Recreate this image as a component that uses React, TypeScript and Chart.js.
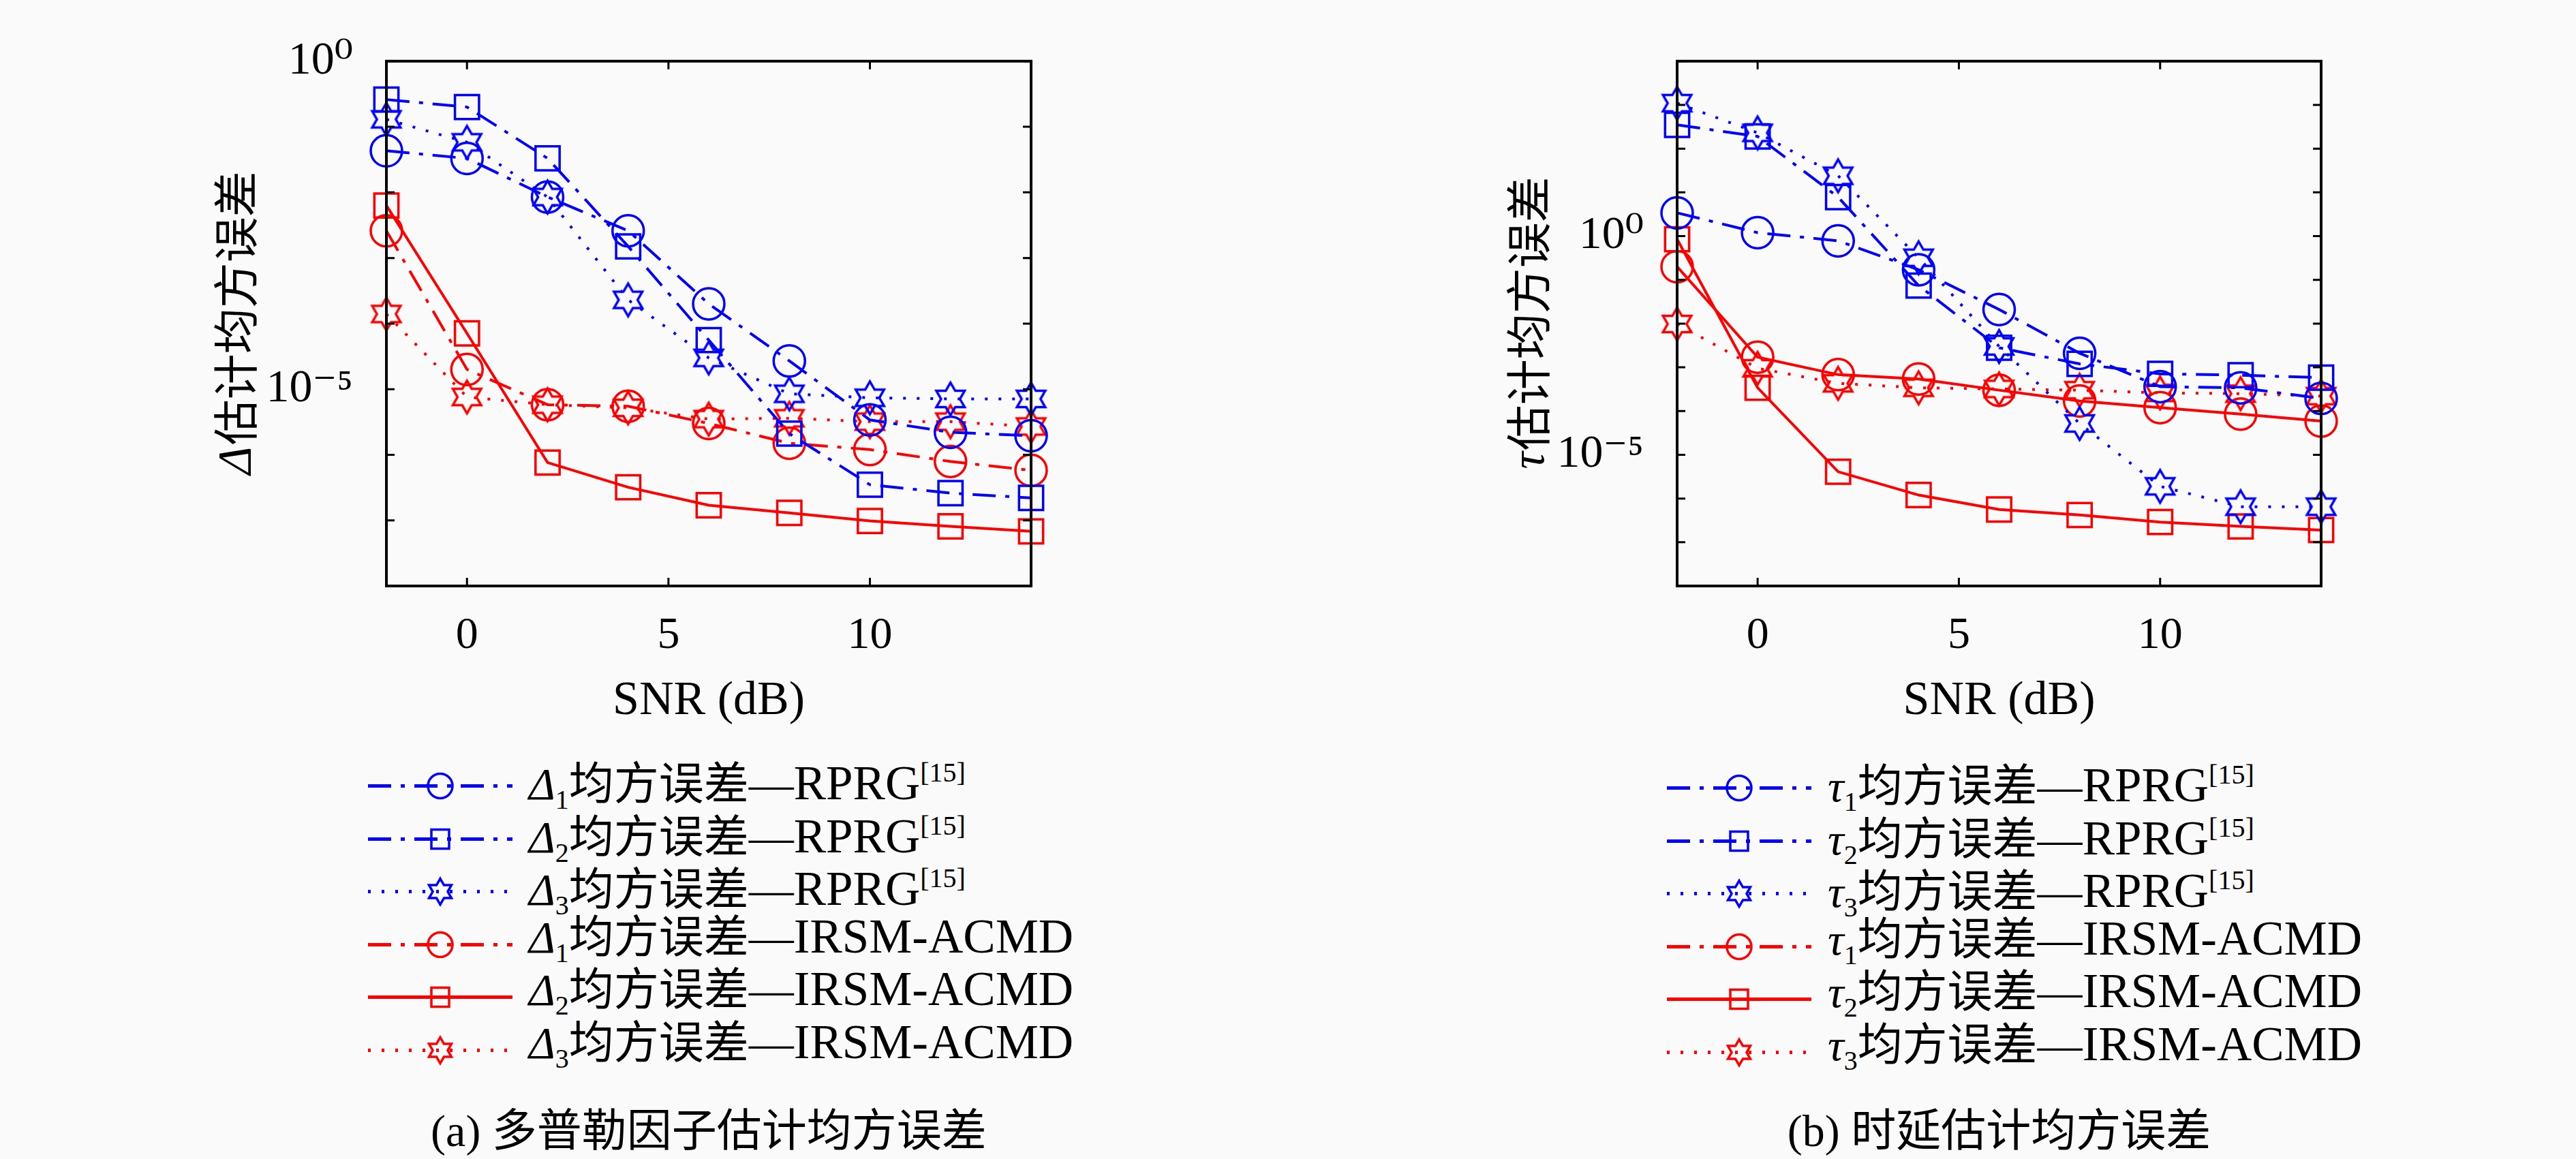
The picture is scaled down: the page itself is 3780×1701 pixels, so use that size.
import { useEffect, useRef } from "react";
import { Chart, registerables } from "chart.js";

Chart.register(...registerables);

// SNR axis (dB)
const snr = [-2, 0, 2, 4, 6, 8, 10, 12, 14];
const snrTicks = [0, 5, 10];
const labelledDecades = [0, -5];

// (a) Doppler factor estimation MSE
const delta1Rprg = [4.3e-2, 3.3e-2, 8.5e-3, 2.6e-3, 2.0e-4, 2.7e-5, 3.4e-6, 2.2e-6, 1.95e-6];
const delta2Rprg = [2.6e-1, 2.0e-1, 3.3e-2, 1.5e-3, 5.6e-5, 2.1e-6, 3.5e-7, 2.6e-7, 2.2e-7];
const delta3Rprg = [1.3e-1, 5.8e-2, 8.5e-3, 2.3e-4, 3.0e-5, 8.5e-6, 7.4e-6, 7.1e-6, 7.1e-6];
const delta1Irsm = [2.6e-3, 2.0e-5, 5.8e-6, 5.5e-6, 3.0e-6, 1.5e-6, 1.2e-6, 7.9e-7, 5.8e-7];
const delta2Irsm = [6.3e-3, 7.1e-5, 7.6e-7, 3.2e-7, 1.7e-7, 1.3e-7, 9.8e-8, 8.1e-8, 6.8e-8];
const delta3Irsm = [1.4e-4, 7.6e-6, 5.8e-6, 5.2e-6, 3.5e-6, 3.6e-6, 3.2e-6, 3.2e-6, 2.7e-6];
const deltaRange = [1e-8, 1];

// (b) time delay estimation MSE
const tau1Rprg = [3.4, 1.2, 0.78, 0.17, 2.1e-2, 2.1e-3, 3.6e-4, 3.4e-4, 1.95e-4];
const tau2Rprg = [350, 190, 7.8, 7.4e-2, 2.8e-3, 1.2e-3, 7.1e-4, 6.6e-4, 5.8e-4];
const tau3Rprg = [1100, 230, 24, 0.32, 3.0e-3, 5.2e-5, 1.9e-6, 6.5e-7, 6.5e-7];
const tau1Irsm = [0.2, 1.7e-3, 6.8e-4, 5.4e-4, 3.0e-4, 1.7e-4, 1.2e-4, 8.5e-5, 5.9e-5];
const tau2Irsm = [0.85, 3.4e-4, 4.1e-6, 1.2e-6, 5.6e-7, 4.2e-7, 2.9e-7, 2.3e-7, 1.9e-7];
const tau3Irsm = [9.8e-3, 9.5e-4, 4.3e-4, 3.4e-4, 3.2e-4, 3.0e-4, 2.6e-4, 2.5e-4, 2.2e-4];
const tauRange = [1e-8, 1e4];

const BLUE = "#0000ff";
const RED = "#ff0000";
const DASH_DOT = [34, 14, 6, 14];
const DOTTED = [4, 16];
const SOLID: number[] = [];

const SERIF = '"Liberation Serif", "DejaVu Serif", serif';
const TEXT_FONT = '"Liberation Serif", "Noto Sans CJK SC", serif';

type Marker = "circle" | "rect" | "hexagram";

interface Series {
  index: number;
  method: "RPRG" | "IRSM-ACMD";
  values: number[];
  color: string;
  marker: Marker;
  dash: number[];
  legendDash: number[];
}

interface PanelConfig {
  symbol: string;
  range: number[];
  series: Series[];
  caption: string;
  canvas: { left: number; width: number; yWidth: number; padRight: number };
  yTitleX: number;
  legend: { left: number; top: number };
}

const panels: PanelConfig[] = [
  {
    symbol: "Δ",
    range: deltaRange,
    caption: "(a) 多普勒因子估计均方误差",
    canvas: { left: 300, width: 1280, yWidth: 267, padRight: 67 },
    yTitleX: 46,
    legend: { left: 540, top: 1115 },
    series: [
      { index: 1, method: "RPRG", values: delta1Rprg, color: BLUE, marker: "circle", dash: DASH_DOT, legendDash: DASH_DOT },
      { index: 2, method: "RPRG", values: delta2Rprg, color: BLUE, marker: "rect", dash: DASH_DOT, legendDash: DASH_DOT },
      { index: 3, method: "RPRG", values: delta3Rprg, color: BLUE, marker: "hexagram", dash: DOTTED, legendDash: DOTTED },
      { index: 1, method: "IRSM-ACMD", values: delta1Irsm, color: RED, marker: "circle", dash: DASH_DOT, legendDash: DASH_DOT },
      { index: 2, method: "IRSM-ACMD", values: delta2Irsm, color: RED, marker: "rect", dash: SOLID, legendDash: SOLID },
      { index: 3, method: "IRSM-ACMD", values: delta3Irsm, color: RED, marker: "hexagram", dash: DOTTED, legendDash: DOTTED },
    ],
  },
  {
    symbol: "τ",
    range: tauRange,
    caption: "(b) 时延估计均方误差",
    canvas: { left: 2150, width: 1320, yWidth: 311, padRight: 64 },
    yTitleX: 93,
    legend: { left: 2446, top: 1118 },
    series: [
      { index: 1, method: "RPRG", values: tau1Rprg, color: BLUE, marker: "circle", dash: DASH_DOT, legendDash: DASH_DOT },
      { index: 2, method: "RPRG", values: tau2Rprg, color: BLUE, marker: "rect", dash: DASH_DOT, legendDash: DASH_DOT },
      { index: 3, method: "RPRG", values: tau3Rprg, color: BLUE, marker: "hexagram", dash: DOTTED, legendDash: DOTTED },
      { index: 1, method: "IRSM-ACMD", values: tau1Irsm, color: RED, marker: "circle", dash: SOLID, legendDash: DASH_DOT },
      { index: 2, method: "IRSM-ACMD", values: tau2Irsm, color: RED, marker: "rect", dash: SOLID, legendDash: SOLID },
      { index: 3, method: "IRSM-ACMD", values: tau3Irsm, color: RED, marker: "hexagram", dash: DOTTED, legendDash: DOTTED },
    ],
  },
];

const SUP: Record<string, string> = {
  "0": "⁰", "1": "¹", "2": "²", "3": "³", "4": "⁴",
  "5": "⁵", "6": "⁶", "7": "⁷", "8": "⁸", "9": "⁹", "-": "⁻",
};
const supText = (n: number) => String(n).split("").map((c) => SUP[c]).join("");

// outline of a six-pointed star, like matlab's 'hexagram'
function hexagramPoints(cx: number, cy: number, R: number): [number, number][] {
  const pts: [number, number][] = [];
  const r = R / Math.sqrt(3);
  for (let k = 0; k < 12; k++) {
    const a = -Math.PI / 2 + (k * Math.PI) / 6;
    const rad = k % 2 === 0 ? R : r;
    pts.push([cx + rad * Math.cos(a), cy + rad * Math.sin(a)]);
  }
  return pts;
}

function makeHexagram(color: string, R: number, lw: number): HTMLCanvasElement {
  const size = Math.ceil(2 * R + 3 * lw);
  const c = document.createElement("canvas");
  c.width = size;
  c.height = size;
  const ctx = c.getContext("2d")!;
  ctx.strokeStyle = color;
  ctx.lineWidth = lw;
  ctx.beginPath();
  hexagramPoints(size / 2, size / 2, R).forEach(([px, py], i) =>
    i === 0 ? ctx.moveTo(px, py) : ctx.lineTo(px, py)
  );
  ctx.closePath();
  ctx.stroke();
  return c;
}

// box, inward ticks and the mixed-font y title
const framePlugin = {
  id: "frame",
  afterDatasetsDraw(chart: any, _args: any, opts: any) {
    const { ctx, chartArea, scales } = chart;
    const { left, right, top, bottom } = chartArea;
    const tl = 12;
    ctx.save();
    ctx.strokeStyle = "#000";
    ctx.lineWidth = 3;
    ctx.beginPath();
    scales.x.ticks.forEach((t: any) => {
      const px = scales.x.getPixelForValue(t.value);
      ctx.moveTo(px, bottom);
      ctx.lineTo(px, bottom - tl);
      ctx.moveTo(px, top);
      ctx.lineTo(px, top + tl);
    });
    scales.y.ticks.forEach((t: any) => {
      const py = scales.y.getPixelForValue(t.value);
      ctx.moveTo(left, py);
      ctx.lineTo(left + tl, py);
      ctx.moveTo(right, py);
      ctx.lineTo(right - tl, py);
    });
    ctx.stroke();
    ctx.lineWidth = 4;
    ctx.strokeRect(left, top, right - left, bottom - top);
    ctx.restore();

    // y axis title
    const cy = (top + bottom) / 2;
    const symFont = `italic 70px ${SERIF}`;
    const cjkFont = '67px "Noto Sans CJK SC", sans-serif';
    const rest = "估计均方误差";
    ctx.save();
    ctx.translate(opts.titleX, cy);
    ctx.rotate(-Math.PI / 2);
    ctx.fillStyle = "#000";
    ctx.textBaseline = "middle";
    ctx.textAlign = "left";
    ctx.font = symFont;
    const w1 = ctx.measureText(opts.symbol).width;
    ctx.font = cjkFont;
    const w2 = ctx.measureText(rest).width;
    const x0 = -(w1 + w2) / 2;
    ctx.font = symFont;
    ctx.fillText(opts.symbol, x0, 4);
    ctx.font = cjkFont;
    ctx.fillText(rest, x0 + w1 + 2, 0);
    ctx.restore();
  },
};

function LegendSample({ s }: { s: Series }) {
  const w = 212;
  const h = 77;
  const cx = w / 2;
  const cy = h / 2;
  let marker;
  if (s.marker === "circle") {
    marker = <circle cx={cx} cy={cy} r={18} fill="none" stroke={s.color} strokeWidth={3.5} />;
  } else if (s.marker === "rect") {
    marker = <rect x={cx - 13} y={cy - 14} width={26} height={28} fill="none" stroke={s.color} strokeWidth={3.5} />;
  } else {
    const pts = hexagramPoints(cx, cy, 19).map((p) => p.join(",")).join(" ");
    marker = <polygon points={pts} fill="none" stroke={s.color} strokeWidth={3.5} />;
  }
  return (
    <svg width={w} height={h} style={{ display: "block", flex: "none" }}>
      <line
        x1={0}
        y1={cy}
        x2={w}
        y2={cy}
        stroke={s.color}
        strokeWidth={5}
        strokeDasharray={s.legendDash.length ? s.legendDash.join(" ") : undefined}
      />
      {marker}
    </svg>
  );
}

function Panel({ cfg }: { cfg: PanelConfig }) {
  const chartRef = useRef<HTMLCanvasElement | null>(null);
  const height = 1080;

  useEffect(() => {
    if (!chartRef.current) return;
    const datasets = cfg.series.map((s) => ({
      label: `${cfg.symbol}${s.index} ${s.method}`,
      data: s.values.map((v, i) => ({ x: snr[i], y: v })),
      borderColor: s.color,
      backgroundColor: "rgba(0,0,0,0)",
      borderWidth: 4,
      borderDash: s.dash,
      pointStyle: s.marker === "hexagram" ? makeHexagram(s.color, 24, 3.5) : s.marker,
      pointRadius: s.marker === "rect" ? 25 : 23,
      pointBorderColor: s.color,
      pointBackgroundColor: "rgba(0,0,0,0)",
      pointBorderWidth: 3.5,
      fill: false,
      tension: 0,
      clip: false as const,
    }));

    const [yMin, yMax] = cfg.range;
    const chart = new Chart(chartRef.current, {
      type: "line",
      data: { datasets },
      options: {
        animation: false,
        responsive: false,
        devicePixelRatio: 1,
        layout: { padding: { top: 57, right: cfg.canvas.padRight, left: 0, bottom: 0 } },
        plugins: {
          legend: { display: false },
          tooltip: { enabled: false },
          // @ts-ignore
          frame: { symbol: cfg.symbol, titleX: cfg.yTitleX },
        },
        scales: {
          x: {
            type: "linear",
            min: snr[0],
            max: snr[snr.length - 1],
            grid: { display: false, drawTicks: false },
            border: { display: false },
            ticks: {
              font: { family: SERIF, size: 66 },
              color: "#000",
              padding: 34,
              maxRotation: 0,
              autoSkip: false,
              callback: (v: any) => String(v),
            },
            title: {
              display: true,
              text: "SNR (dB)",
              font: { family: SERIF, size: 70 },
              color: "#000",
              padding: { top: 0, bottom: 8 },
            },
            afterBuildTicks: (scale: any) => {
              scale.ticks = snrTicks.map((v) => ({ value: v }));
            },
            afterFit: (scale: any) => {
              scale.height = height - 860;
            },
          },
          y: {
            type: "logarithmic",
            min: yMin,
            max: yMax,
            grid: { display: false, drawTicks: false },
            border: { display: false },
            ticks: {
              font: { family: SERIF, size: 68 },
              color: "#000",
              padding: 49,
              autoSkip: false,
              callback: (v: any) => {
                const e = Math.round(Math.log10(Number(v)));
                return labelledDecades.includes(e) ? `10${supText(e)}` : "";
              },
            },
            afterBuildTicks: (scale: any) => {
              const ticks = [];
              for (let e = Math.round(Math.log10(yMin)); e <= Math.round(Math.log10(yMax)); e++) {
                ticks.push({ value: Math.pow(10, e) });
              }
              scale.ticks = ticks;
            },
            afterFit: (scale: any) => {
              scale.width = cfg.canvas.yWidth;
            },
          },
        },
      },
      plugins: [framePlugin],
    });
    return () => chart.destroy();
  }, [cfg]);

  const plotCenter = cfg.canvas.left + cfg.canvas.yWidth + (cfg.canvas.width - cfg.canvas.yWidth - cfg.canvas.padRight) / 2;

  return (
    <>
      <canvas
        ref={chartRef}
        width={cfg.canvas.width}
        height={height}
        style={{ position: "absolute", left: cfg.canvas.left, top: 0, width: cfg.canvas.width, height }}
      />
      <div style={{ position: "absolute", left: cfg.legend.left, top: cfg.legend.top, fontFamily: TEXT_FONT, fontSize: 66, color: "#000" }}>
        {cfg.series.map((s, i) => (
          <div key={i} style={{ display: "flex", alignItems: "center", height: 77.5, whiteSpace: "nowrap" }}>
            <LegendSample s={s} />
            <span style={{ marginLeft: 24, lineHeight: "77px" }}>
              <i style={{ fontFamily: SERIF }}>{cfg.symbol}</i>
              <span style={{ fontSize: 40, verticalAlign: -14, fontFamily: SERIF }}>{s.index}</span>
              均方误差—
              <span style={{ fontSize: 71, fontFamily: SERIF }}>{s.method}</span>
              {s.method === "RPRG" && (
                <span style={{ fontSize: 40, verticalAlign: 26, fontFamily: SERIF }}>[15]</span>
              )}
            </span>
          </div>
        ))}
      </div>
      <div
        style={{
          position: "absolute",
          left: plotCenter - 700,
          width: 1400,
          top: 1620,
          textAlign: "center",
          fontFamily: TEXT_FONT,
          fontSize: 66,
          lineHeight: "80px",
          color: "#000",
          whiteSpace: "nowrap",
        }}
      >
        {cfg.caption}
      </div>
    </>
  );
}

export default function App() {
  return (
    <div
      style={{
        position: "absolute",
        left: 0,
        top: 0,
        width: 3780,
        height: 1701,
        background: "#fafafa",
        overflow: "hidden",
      }}
    >
      {panels.map((p, i) => (
        <Panel key={i} cfg={p} />
      ))}
    </div>
  );
}
